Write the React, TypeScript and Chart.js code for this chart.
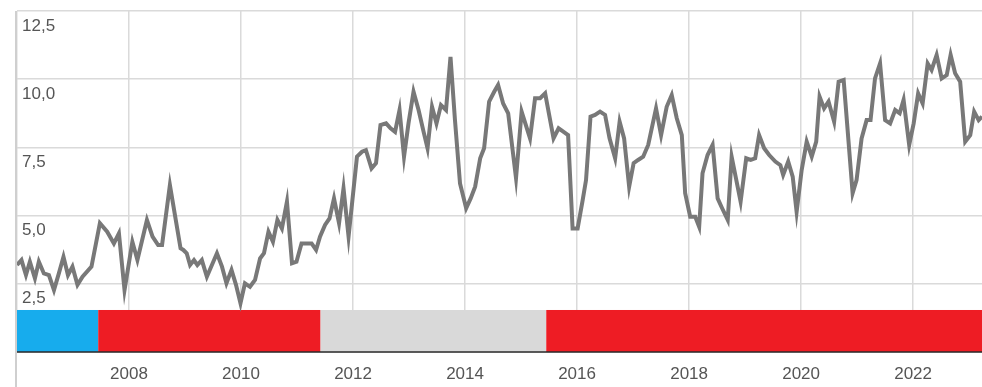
import React, { useEffect, useRef } from "react";
import { Chart, registerables } from "chart.js";

Chart.register(...registerables);

// Decimal-year positions of the line's points
const months: number[] = [
  2006.0, 2006.08, 2006.16, 2006.23, 2006.32, 2006.39, 2006.48, 2006.57, 2006.66, 2006.75,
  2006.83, 2006.91, 2006.99, 2007.08, 2007.17, 2007.33, 2007.48, 2007.61, 2007.73, 2007.82,
  2007.92, 2008.06, 2008.15, 2008.32, 2008.42, 2008.52, 2008.59, 2008.73, 2008.92, 2008.97,
  2009.03, 2009.09, 2009.16, 2009.22, 2009.3, 2009.39, 2009.48, 2009.57, 2009.66, 2009.74,
  2009.83, 2009.91, 2009.99, 2010.07, 2010.16, 2010.25, 2010.34, 2010.41, 2010.49, 2010.57,
  2010.65, 2010.73, 2010.82, 2010.91, 2010.99, 2011.08, 2011.17, 2011.26, 2011.34, 2011.41,
  2011.5, 2011.58, 2011.66, 2011.75, 2011.83, 2011.92, 2012.07, 2012.16, 2012.23, 2012.33,
  2012.41, 2012.49, 2012.59, 2012.67, 2012.75, 2012.83, 2012.91, 2012.99, 2013.08, 2013.17,
  2013.26, 2013.33, 2013.41, 2013.49, 2013.57, 2013.66, 2013.74, 2013.82, 2013.91, 2014.02,
  2014.1, 2014.18, 2014.27, 2014.34, 2014.43, 2014.52, 2014.59, 2014.68, 2014.77, 2014.91,
  2015.01, 2015.16, 2015.25, 2015.34, 2015.43, 2015.58, 2015.67, 2015.76, 2015.84, 2015.92,
  2016.01, 2016.1, 2016.16, 2016.24, 2016.32, 2016.41, 2016.5, 2016.58, 2016.68, 2016.76,
  2016.84, 2016.93, 2017.01, 2017.09, 2017.18, 2017.27, 2017.41, 2017.5, 2017.6, 2017.69,
  2017.78, 2017.87, 2017.93, 2018.02, 2018.11, 2018.18, 2018.24, 2018.33, 2018.42, 2018.51,
  2018.59, 2018.69, 2018.76, 2018.92, 2019.02, 2019.1, 2019.18, 2019.25, 2019.34, 2019.43,
  2019.54, 2019.63, 2019.68, 2019.77, 2019.85, 2019.92, 2020.01, 2020.1, 2020.19, 2020.27,
  2020.33, 2020.41, 2020.49, 2020.59, 2020.67, 2020.76, 2020.92, 2020.99, 2021.08, 2021.17,
  2021.24, 2021.32, 2021.41, 2021.5, 2021.59, 2021.68, 2021.76, 2021.83, 2021.93, 2022.01,
  2022.09, 2022.17, 2022.26, 2022.33, 2022.42, 2022.51, 2022.6, 2022.67, 2022.75, 2022.84,
  2022.93, 2023.02, 2023.09, 2023.17, 2023.23,
];

const values: number[] = [
  3.19, 3.37, 2.82, 3.31, 2.7, 3.31, 2.88, 2.82, 2.27, 2.9,
  3.49, 2.82, 3.13, 2.46, 2.76, 3.13, 4.72, 4.41, 3.98, 4.35,
  2.27, 4.04, 3.37, 4.84, 4.23, 3.92, 3.92, 6.12, 3.8, 3.74,
  3.62, 3.19, 3.37, 3.19, 3.37, 2.76, 3.19, 3.62, 3.13, 2.52,
  3.01, 2.46, 1.79, 2.52, 2.39, 2.64, 3.43, 3.62, 4.41, 4.04,
  4.84, 4.53, 5.51, 3.25, 3.31, 3.98, 3.98, 3.98, 3.74, 4.23,
  4.66, 4.9, 5.63, 4.72, 6.0, 4.23, 7.16, 7.34, 7.4, 6.73,
  6.92, 8.32, 8.38, 8.2, 8.07, 8.87, 7.16, 8.38, 9.54, 8.87,
  8.07, 7.47, 8.99, 8.38, 9.05, 8.87, 10.82, 8.5, 6.18, 5.27,
  5.63, 6.06, 7.1, 7.47, 9.18, 9.54, 9.79, 9.11, 8.75, 6.37,
  8.81, 7.83, 9.3, 9.3, 9.48, 7.83, 8.2, 8.07, 7.95, 4.53,
  4.53, 5.57, 6.3, 8.63, 8.69, 8.81, 8.69, 7.83, 7.1, 8.44,
  7.83, 6.06, 6.92, 7.04, 7.16, 7.59, 8.93, 7.95, 8.99, 9.42,
  8.57, 7.95, 5.82, 4.96, 4.96, 4.59, 6.55, 7.22, 7.59, 5.63,
  5.27, 4.84, 7.16, 5.51, 7.1, 7.04, 7.1, 7.95, 7.47, 7.22,
  6.98, 6.85, 6.49, 6.98, 6.43, 5.14, 6.67, 7.71, 7.16, 7.71,
  9.36, 8.93, 9.18, 8.44, 9.91, 9.97, 5.82, 6.3, 7.83, 8.5,
  8.5, 10.03, 10.58, 8.5, 8.38, 8.87, 8.75, 9.24, 7.59, 8.38,
  9.48, 9.11, 10.58, 10.34, 10.89, 10.03, 10.15, 10.89, 10.22, 9.91,
  7.71, 7.95, 8.81, 8.5, 8.63,
];

// Coloured period bands along the bottom
const bandStarts: number[] = [2006.0, 2007.45, 2011.42, 2015.45];
const bandEnds: number[] = [2007.45, 2011.42, 2015.45, 2023.3];
const bandColors: string[] = ["#17aced", "#ee1c24", "#d9d9d9", "#ee1c24"];
const bandTop = 1.54;

const xMin = 2006;
const xMax = 2023.23;
const yMax = 12.5;
const yStep = 2.5;
const xStep = 2;

const FONT = "'Liberation Sans', Arial, sans-serif";

const bandPlugin = {
  id: "bands",
  beforeDatasetsDraw(chart: any) {
    const { ctx, scales, chartArea } = chart;
    const x = scales.x;
    const y = scales.y;
    ctx.save();
    const y0 = y.getPixelForValue(bandTop);
    const y1 = y.getPixelForValue(0);
    bandStarts.forEach((s, i) => {
      const x0 = Math.max(x.getPixelForValue(s), chartArea.left);
      const x1 = x.getPixelForValue(bandEnds[i]);
      ctx.fillStyle = bandColors[i];
      ctx.fillRect(x0, y0, x1 - x0, y1 - y0);
    });
    ctx.strokeStyle = "#2a2a2a";
    ctx.lineWidth = 1.5;
    ctx.beginPath();
    ctx.moveTo(chartArea.left, y1);
    ctx.lineTo(chartArea.right, y1);
    ctx.stroke();
    ctx.restore();
  },
  afterDraw(chart: any) {
    const { ctx, chartArea } = chart;
    ctx.save();
    ctx.strokeStyle = "#cfcfcf";
    ctx.lineWidth = 2;
    ctx.beginPath();
    ctx.moveTo(chartArea.left - 1, chartArea.top);
    ctx.lineTo(chartArea.left - 1, chart.height);
    ctx.stroke();
    ctx.restore();
  },
};

export default function App() {
  const canvasRef = useRef<HTMLCanvasElement | null>(null);

  useEffect(() => {
    document.body.style.margin = "0";
    const canvas = canvasRef.current;
    if (!canvas) return;
    const chart = new Chart(canvas, {
      type: "line",
      data: {
        datasets: [
          {
            data: months.map((m, i) => ({ x: m, y: values[i] })),
            borderColor: "#787878",
            borderWidth: 4,
            pointRadius: 0,
            tension: 0,
            fill: false,
          },
        ],
      },
      options: {
        animation: false,
        responsive: false,
        maintainAspectRatio: false,
        layout: { padding: { left: 17, top: 11, right: 0, bottom: 2 } },
        plugins: { legend: { display: false }, tooltip: { enabled: false } },
        scales: {
          x: {
            type: "linear",
            min: xMin,
            max: xMax,
            grid: { color: "#dadada", lineWidth: 1.5, drawTicks: false },
            border: { display: false },
            ticks: {
              stepSize: xStep,
              includeBounds: false,
              autoSkip: false,
              maxRotation: 0,
              padding: 12,
              color: "#555555",
              font: { family: FONT, size: 17 },
              callback: (v: any) => (Number(v) === xMin ? "" : String(v)),
            },
            afterFit: (s: any) => {
              s.paddingLeft = 0;
              s.paddingRight = 0;
              s.height = 33;
            },
          },
          y: {
            min: 0,
            max: yMax,
            grid: { color: "#dadada", lineWidth: 1.5, drawTicks: false },
            border: { display: false },
            ticks: {
              stepSize: yStep,
              mirror: true,
              padding: 5,
              labelOffset: 15,
              color: "#555555",
              font: { family: FONT, size: 17 },
              callback: (v: any) =>
                Number(v) === 0 ? "" : Number(v).toFixed(1).replace(".", ","),
            },
            afterFit: (s: any) => {
              s.paddingTop = 0;
              s.paddingBottom = 0;
              s.width = 0;
            },
          },
        },
      },
      plugins: [bandPlugin],
    });
    return () => chart.destroy();
  }, []);

  return (
    <div style={{ position: "absolute", left: 0, top: 0, width: 982, height: 387, background: "#fff" }}>
      <canvas ref={canvasRef} width={982} height={387} style={{ display: "block" }} />
    </div>
  );
}
